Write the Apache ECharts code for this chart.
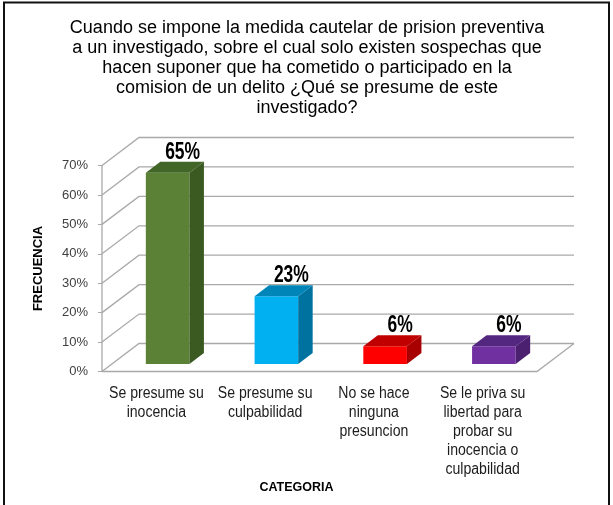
<!DOCTYPE html>
<html>
<head>
<meta charset="utf-8">
<style>html,body{margin:0;padding:0;background:#fff}#c{width:613px;height:505px}</style>
<script src="https://cdn.jsdelivr.net/npm/echarts@6/dist/echarts.min.js"></script>
</head>
<body>
<div id="c"></div>
<script>
const titleLines = [
  'Cuando se impone la medida cautelar de prision preventiva',
  'a un investigado, sobre el cual solo existen sospechas que',
  'hacen suponer que ha cometido o participado en la',
  'comision de un delito ¿Qué se presume de este',
  'investigado?'
];
const categories = [
  'Se presume su\ninocencia',
  'Se presume su\nculpabilidad',
  'No se hace\nninguna\npresuncion',
  'Se le priva su\nlibertad para\nprobar su\ninocencia o\nculpabilidad'
];
const values = [65, 23, 6, 6];
const frontColors = ['#5a8136', '#00b0f0', '#ff0000', '#7030a0'];
const sideColors = ['#3a5a22', '#0072a0', '#a80000', '#4c2070'];
const topColors = ['#426627', '#0085b8', '#c00000', '#532680'];
const yTicks = [0, 10, 20, 30, 40, 50, 60, 70];

// Oblique projection of the chart box and of each bar.
const WALL_DX = 37, WALL_DY = 28;
const BAR_DX = 14.5, BAR_DY = 11;
const BAR_W = 43.6;
const BAR_LIFT = 7.5;
const FONT = '"Liberation Sans", Arial, sans-serif';
const GRID_COLOR = '#a9a9a9';
const TEXT_COLOR = '#1c1c1c';

// Category and value labels use a condensed cut, obtained by squeezing the glyphs horizontally.
function squeezedText(x, y, text, font, align, vAlign, squeeze, fill, lineHeight) {
  return {
    type: 'text',
    x,
    y,
    scaleX: squeeze,
    style: { x: 0, y: 0, text, font, align, verticalAlign: vAlign, fill, lineHeight }
  };
}

function wallLine(points) {
  return {
    type: 'polyline',
    shape: { points },
    style: { fill: null, stroke: GRID_COLOR, lineWidth: 1.3 }
  };
}

function renderWall(params, api) {
  const tick = api.value(1);
  const p = api.coord([0, tick]);
  const sys = params.coordSys;
  const left = sys.x, right = sys.x + sys.width;
  const children = [
    wallLine([[left, p[1]], [left + WALL_DX, p[1] - WALL_DY], [right + WALL_DX, p[1] - WALL_DY]])
  ];
  if (tick === 0) {
    children.push(wallLine([[left, p[1]], [right, p[1]], [right + WALL_DX, p[1] - WALL_DY]]));
    children.push(wallLine([[left, p[1]], [left, sys.y]]));
  }
  return { type: 'group', children };
}

function poly(points, fill) {
  return { type: 'polygon', shape: { points }, style: { fill, stroke: null } };
}

function renderBar(params, api) {
  const i = api.value(0);
  const value = api.value(1);
  const base = api.coord([i, 0]);
  const top = api.coord([i, value]);
  // The bar stands in the middle of the floor's depth.
  const x0 = base[0] + WALL_DX / 2 - BAR_DX / 2 - BAR_W / 2;
  const x1 = x0 + BAR_W;
  const yb = base[1] - BAR_LIFT;
  const yt = top[1] - BAR_LIFT;
  return {
    type: 'group',
    children: [
      poly([[x0, yb], [x1, yb], [x1, yt], [x0, yt]], frontColors[i]),
      poly([[x1, yb], [x1 + BAR_DX, yb - BAR_DY], [x1 + BAR_DX, yt - BAR_DY], [x1, yt]], sideColors[i]),
      poly([[x0, yt], [x1, yt], [x1 + BAR_DX, yt - BAR_DY], [x0 + BAR_DX, yt - BAR_DY]], topColors[i]),
      squeezedText(x0 + BAR_DX + BAR_W / 2 + 0.5, yt - BAR_DY + 2, value + '%',
        'bold 23px ' + FONT, 'center', 'bottom', 0.76, '#000'),
      squeezedText(base[0], base[1] + 13, categories[i],
        '16px ' + FONT, 'center', 'top', 0.88, TEXT_COLOR, 19)
    ]
  };
}

const chart = echarts.init(document.getElementById('c'), null, { renderer: 'canvas' });
chart.setOption({
  animation: false,
  backgroundColor: '#fff',
  title: {
    text: titleLines.join('\n'),
    left: 302,
    top: 13,
    textAlign: 'center',
    textStyle: {
      fontFamily: FONT,
      fontSize: 18,
      fontWeight: 'normal',
      color: '#000',
      lineHeight: 20
    }
  },
  grid: { left: 102, right: 76, top: 165.5, bottom: 133.5 },
  xAxis: {
    type: 'category',
    data: categories,
    name: 'CATEGORIA',
    nameLocation: 'middle',
    nameGap: 110,
    nameTextStyle: {
      fontFamily: FONT, fontSize: 12.5, fontWeight: 'bold', color: '#000',
      padding: [0, 46, 0, 0]
    },
    axisLine: { show: false },
    axisTick: { show: false },
    axisLabel: { show: false }
  },
  yAxis: {
    type: 'value',
    min: yTicks[0],
    max: yTicks[yTicks.length - 1],
    interval: 10,
    name: 'FRECUENCIA',
    nameLocation: 'middle',
    nameRotate: 90,
    nameGap: 57,
    nameTextStyle: { fontFamily: FONT, fontSize: 13, fontWeight: 'bold', color: '#000' },
    splitLine: { show: false },
    axisLine: { show: false },
    axisTick: { show: true, length: 4, lineStyle: { color: GRID_COLOR } },
    axisLabel: {
      margin: 14,
      fontFamily: FONT,
      fontSize: 13,
      color: '#404040',
      formatter: '{value}%'
    }
  },
  graphic: [{
    type: 'rect',
    silent: true,
    z: 100,
    shape: { x: 4, y: 2.5, width: 605, height: 515 },
    style: { fill: null, stroke: '#111', lineWidth: 2 }
  }],
  series: [
    {
      type: 'custom',
      clip: false,
      silent: true,
      renderItem: renderWall,
      data: yTicks.map(v => [0, v]),
      z: 1
    },
    {
      type: 'custom',
      clip: false,
      silent: true,
      renderItem: renderBar,
      data: values.map((v, i) => [i, v]),
      z: 2
    }
  ]
});
</script>
</body>
</html>
